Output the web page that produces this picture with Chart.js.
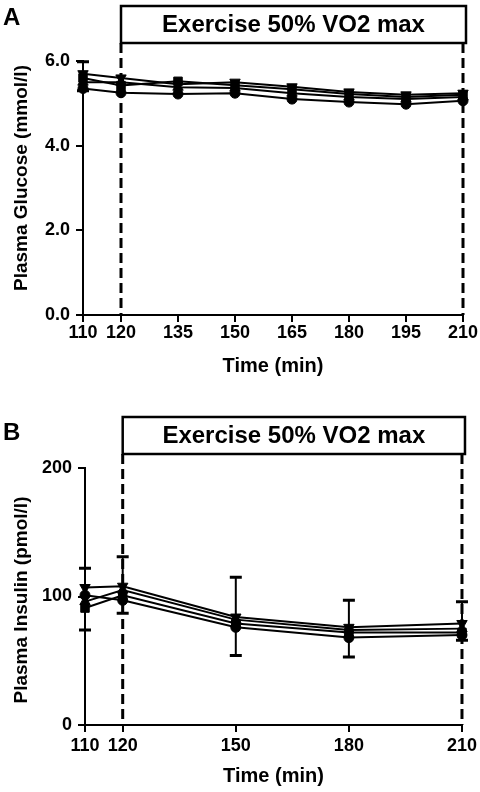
<!DOCTYPE html>
<html>
<head>
<meta charset="utf-8">
<script src="https://cdn.jsdelivr.net/npm/chart.js@4.4.1/dist/chart.umd.min.js"></script>
<style>
  body { margin: 0; background: #fff; }
  canvas { display: block; }
</style>
</head>
<body>
<canvas id="glucoseChart" width="480" height="400"></canvas>
<canvas id="insulinChart" width="480" height="392"></canvas>
<script>
// Panel A - plasma glucose (mmol/l)
const glucoseTimes = [110, 120, 135, 150, 165, 180, 195, 210];
const glucoseTicks = [110, 120, 135, 150, 165, 180, 195, 210];
const glucoseDown   = [5.70, 5.60, 5.45, 5.50, 5.39, 5.27, 5.20, 5.24];
const glucoseSquare = [5.60, 5.42, 5.52, 5.43, 5.33, 5.22, 5.15, 5.20];
const glucoseUp     = [5.50, 5.50, 5.38, 5.36, 5.24, 5.15, 5.10, 5.15];
const glucoseCircle = [5.35, 5.25, 5.22, 5.24, 5.10, 5.03, 4.98, 5.06];
const glucoseErrHigh = [5.98, null, null, null, null, null, null, null];
const glucoseErrLow  = [5.30, null, null, null, null, null, null, null];

// Panel B - plasma insulin (pmol/l)
const insulinTimes = [110, 120, 150, 180, 210];
const insulinTicks = [110, 120, 150, 180, 210];
const insulinDown   = [107, 108, 84, 76, 79];
const insulinSquare = [91, 101, 79, 72, 72];
const insulinUp     = [96, 105, 82, 74, 75];
const insulinCircle = [101, 97, 76, 68, 70];
const insulinErrHigh = [122, 131, 115, 97, 96];
const insulinErrLow  = [74, 87, 54, 53, 66];

const exerciseStart = 120;
const exerciseEnd = 210;
const exerciseLabel = "Exercise 50% VO2 max";

Chart.defaults.font.family = "'Liberation Sans', Arial, sans-serif";
Chart.defaults.color = "#000";

// marker style for each of the four series
const markers = [
  { style: "triangle", rotation: 180, radius: 6 },
  { style: "rect", rotation: 0, radius: 6 },
  { style: "triangle", rotation: 0, radius: 6 },
  { style: "circle", rotation: 0, radius: 5 },
];

function makeDatasets(times, seriesList) {
  return seriesList.map((values, i) => ({
    data: times.map((t, j) => ({ x: t, y: values[j] })),
    borderColor: "#000",
    backgroundColor: "#000",
    borderWidth: 2,
    pointStyle: markers[i].style,
    rotation: markers[i].rotation,
    pointRadius: markers[i].radius,
    pointBorderWidth: 1,
    clip: false,
  }));
}

// error bars, exercise box, dashed lines, panel letter and y title
const decorPlugin = {
  id: "decor",
  beforeDatasetsDraw(chart, args, opts) {
    const xs = chart.scales.x, ys = chart.scales.y, ctx = chart.ctx;
    ctx.save();
    ctx.strokeStyle = "#000";
    opts.times.forEach((t, i) => {
      const hi = opts.errHigh[i], lo = opts.errLow[i];
      if (hi == null) return;
      const px = xs.getPixelForValue(t);
      const yHi = ys.getPixelForValue(hi), yLo = ys.getPixelForValue(lo);
      ctx.lineWidth = 2;
      ctx.beginPath();
      ctx.moveTo(px, yHi); ctx.lineTo(px, yLo);
      ctx.stroke();
      ctx.lineWidth = 3;
      ctx.beginPath();
      ctx.moveTo(px - 6, yHi); ctx.lineTo(px + 6, yHi);
      ctx.moveTo(px - 6, yLo); ctx.lineTo(px + 6, yLo);
      ctx.stroke();
    });
    ctx.restore();
  },
  afterDraw(chart, args, opts) {
    const xs = chart.scales.x, ctx = chart.ctx;
    const area = chart.chartArea;
    const left = xs.getPixelForValue(exerciseStart);
    const right = xs.getPixelForValue(exerciseEnd);
    ctx.save();
    // dashed exercise markers
    ctx.strokeStyle = "#000";
    ctx.lineWidth = 3;
    ctx.setLineDash([10, 5]);
    ctx.beginPath();
    ctx.moveTo(left, opts.boxBottom); ctx.lineTo(left, area.bottom);
    ctx.moveTo(right, opts.boxBottom); ctx.lineTo(right, area.bottom);
    ctx.stroke();
    ctx.setLineDash([]);
    // box with label
    ctx.lineWidth = 2.5;
    ctx.strokeRect(left, opts.boxTop, right + 3 - left, opts.boxBottom - opts.boxTop);
    ctx.fillStyle = "#000";
    ctx.font = "bold 24px 'Liberation Sans', Arial, sans-serif";
    ctx.textAlign = "center";
    ctx.textBaseline = "middle";
    ctx.fillText(exerciseLabel, (left + right + 3) / 2, (opts.boxTop + opts.boxBottom) / 2 + 1);
    // panel letter
    ctx.font = "bold 24px 'Liberation Sans', Arial, sans-serif";
    ctx.textAlign = "left";
    ctx.textBaseline = "alphabetic";
    ctx.fillText(opts.letter, 3, opts.letterY);
    // y axis title
    ctx.translate(22, opts.yTitleY);
    ctx.rotate(-Math.PI / 2);
    ctx.font = "bold 19px 'Liberation Sans', Arial, sans-serif";
    ctx.textAlign = "center";
    ctx.textBaseline = "middle";
    ctx.fillText(opts.yTitle, 0, 0);
    ctx.restore();
  },
};

function axisStyle() {
  return {
    grid: { drawOnChartArea: false, drawTicks: true, tickLength: 7, color: "#000", lineWidth: 2 },
    border: { display: true, color: "#000", width: 2 },
  };
}

function makeChart(id, cfg) {
  return new Chart(document.getElementById(id), {
    type: "line",
    data: { datasets: makeDatasets(cfg.times, cfg.series) },
    plugins: [decorPlugin],
    options: {
      responsive: false,
      animation: false,
      devicePixelRatio: 1,
      layout: { padding: { top: cfg.padTop, right: cfg.padRight, left: 0, bottom: 0 } },
      plugins: {
        legend: { display: false },
        tooltip: { enabled: false },
        decor: cfg.decor,
      },
      scales: {
        x: {
          type: "linear",
          min: 110,
          max: 210,
          ...axisStyle(),
          afterBuildTicks: (axis) => { axis.ticks = cfg.xTicks.map((v) => ({ value: v })); },
          afterFit: (axis) => { axis.height = cfg.xHeight; },
          ticks: { font: { size: 18, weight: "bold" }, padding: cfg.xTickPad, maxRotation: 0, autoSkip: false },
          title: {
            display: true,
            text: "Time (min)",
            font: { size: 20, weight: "bold" },
            padding: { top: 0, bottom: cfg.xTitlePad },
          },
        },
        y: {
          min: 0,
          max: cfg.yMax,
          ...axisStyle(),
          afterFit: (axis) => { axis.width = cfg.yWidth; },
          ticks: {
            stepSize: cfg.yStep,
            font: { size: 18, weight: "bold" },
            padding: 6,
            callback: cfg.yFormat,
          },
        },
      },
    },
  });
}

makeChart("glucoseChart", {
  times: glucoseTimes,
  series: [glucoseDown, glucoseSquare, glucoseUp, glucoseCircle],
  xTicks: glucoseTicks,
  yMax: 6,
  yStep: 2,
  yFormat: (v) => v.toFixed(1),
  padTop: 61,
  padRight: 17,
  yWidth: 83,
  xHeight: 85,
  xTickPad: 0,
  xTitlePad: 22,
  decor: {
    times: glucoseTimes, errHigh: glucoseErrHigh, errLow: glucoseErrLow,
    boxTop: 6, boxBottom: 43, letter: "A", letterY: 25,
    yTitle: "Plasma Glucose (mmol/l)", yTitleY: 178,
  },
});

makeChart("insulinChart", {
  times: insulinTimes,
  series: [insulinDown, insulinSquare, insulinUp, insulinCircle],
  xTicks: insulinTicks,
  yMax: 200,
  yStep: 100,
  yFormat: (v) => String(v),
  padTop: 68,
  padRight: 15,
  yWidth: 85,
  xHeight: 67,
  xTickPad: 3,
  xTitlePad: 4,
  decor: {
    times: insulinTimes, errHigh: insulinErrHigh, errLow: insulinErrLow,
    boxTop: 17, boxBottom: 54, letter: "B", letterY: 40,
    yTitle: "Plasma Insulin (pmol/l)", yTitleY: 200,
  },
});
</script>
</body>
</html>
